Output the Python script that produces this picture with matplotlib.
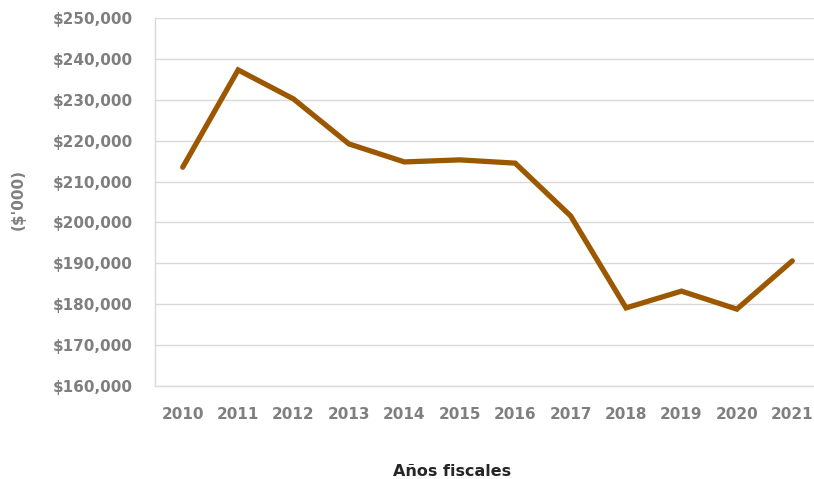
import matplotlib.pyplot as plt
from matplotlib.ticker import FuncFormatter

# Fiscal years and values in $'000
years = ['2010', '2011', '2012', '2013', '2014', '2015',
         '2016', '2017', '2018', '2019', '2020', '2021']
values = [213500, 237300, 230200, 219200, 214800, 215300,
          214500, 201600, 179100, 183200, 178800, 190600]

plt.rcParams['font.family'] = 'DejaVu Sans'
plt.rcParams['font.weight'] = 'bold'

fig = plt.figure(figsize=(8.14, 4.79), dpi=100)
ax = fig.add_axes([155 / 814, 1 - 386 / 479, 665 / 814, 368 / 479])

ax.plot(range(len(years)), values, color='#9C5800', linewidth=3.8,
        solid_joinstyle='miter', solid_capstyle='round', zorder=3)

ax.set_xlim(-0.5, len(years) - 0.5)
ax.set_ylim(160000, 250000)
ax.set_yticks(range(160000, 250001, 10000))
ax.yaxis.set_major_formatter(FuncFormatter(lambda v, p: f'${v:,.0f}'))
ax.set_xticks(range(len(years)))
ax.set_xticklabels(years)

ax.grid(axis='y', color='#d9d9d9', linewidth=1)
ax.set_axisbelow(True)
for side in ['top', 'right']:
    ax.spines[side].set_visible(False)
for side in ['left', 'bottom']:
    ax.spines[side].set_color('#d9d9d9')
    ax.spines[side].set_linewidth(1)

ax.tick_params(axis='both', length=0, colors='#7f7f7f', labelsize=11)
ax.tick_params(axis='x', pad=15)
ax.tick_params(axis='y', pad=16)

fig.text(452 / 814, 1 - 471 / 479, 'Años fiscales', ha='center', va='center',
         fontsize=11.5, fontweight='bold', color='#262626')
fig.text(18 / 814, 1 - 200 / 479, "($'000)", ha='center', va='center',
         rotation=90, fontsize=11, fontweight='bold', color='#7f7f7f')

fig.savefig('out.png', dpi=100)
